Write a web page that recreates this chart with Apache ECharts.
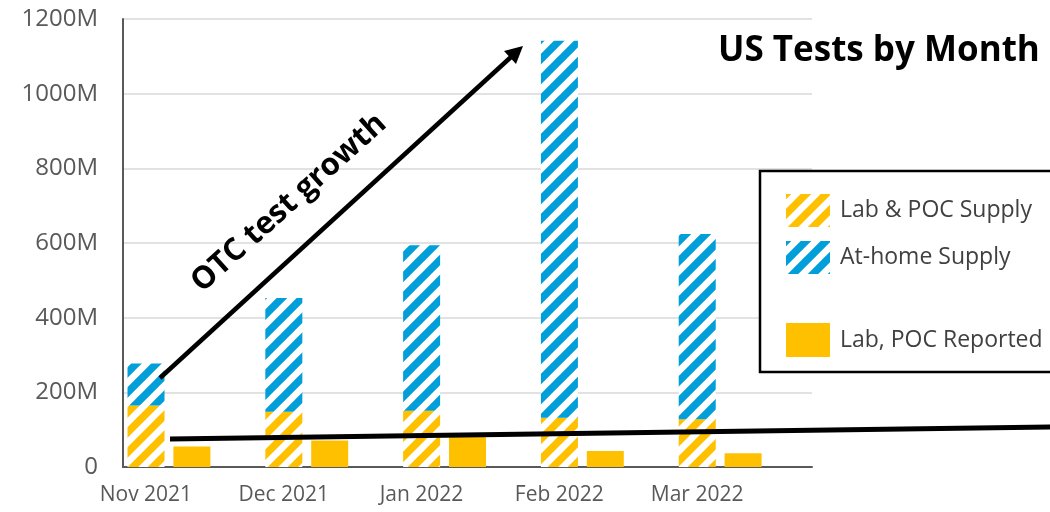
<!DOCTYPE html>
<html>
<head>
<meta charset="utf-8">
<script src="https://cdn.jsdelivr.net/npm/echarts@6/dist/echarts.min.js"></script>
<style>
html,body{margin:0;padding:0;background:#fff;}
#chart{width:1050px;height:512px;}
</style>
</head>
<body>
<div id="chart"></div>
<script>
// ---- data ----
var categories = ['Nov 2021', 'Dec 2021', 'Jan 2022', 'Feb 2022', 'Mar 2022'];
var labPocSupply = [165, 148, 151, 132, 128];      // millions
var atHomeSupply = [112, 305, 443, 1010, 496];     // millions
var labPocReported = [55, 71, 86, 43, 37];         // millions
var yTicks = [0, 200, 400, 600, 800, 1000, 1200];

var YELLOW = '#FFC000';
var BLUE = '#009FDA';

function makeHatch(color) {
  var s = 20;
  var c = document.createElement('canvas');
  c.width = s; c.height = s;
  var g = c.getContext('2d');
  g.fillStyle = '#fff';
  g.fillRect(0, 0, s, s);
  g.strokeStyle = color;
  g.lineWidth = 7.5;
  g.lineCap = 'square';
  for (var k = -1; k <= 1; k++) {
    g.beginPath();
    g.moveTo(k * s, s);
    g.lineTo(k * s + s, 0);
    g.stroke();
  }
  return { image: c, repeat: 'repeat' };
}

var chart = echarts.init(document.getElementById('chart'), null, { renderer: 'canvas' });
var FONT = '"Open Sans", Lato, sans-serif';

var option = {
  animation: false,
  backgroundColor: '#fff',
  grid: { left: 123, right: 238, top: 19, bottom: 45, containLabel: false },
  xAxis: {
    type: 'category',
    data: categories,
    axisTick: { show: false },
    axisLine: { show: true, lineStyle: { color: '#595959', width: 2 } },
    axisLabel: {
      color: '#595959', fontFamily: FONT, fontSize: 21, margin: 18,
      padding: [0, 92, 0, 0]
    }
  },
  yAxis: {
    type: 'value',
    min: 0, max: 1200, interval: 200,
    axisLine: { show: true, lineStyle: { color: '#595959', width: 2 } },
    axisTick: { show: false },
    splitLine: { show: true, lineStyle: { color: '#d9d9d9', width: 1.5 } },
    axisLabel: {
      color: '#595959', fontFamily: FONT, fontSize: 24, margin: 25,
      formatter: function (v) { return yTicks.indexOf(v) >= 0 ? (v === 0 ? '0' : v + 'M') : ''; }
    }
  },
  legend: [
    {
      orient: 'vertical', left: 781, top: 189,
      itemWidth: 44, itemHeight: 33, itemGap: 14, icon: 'rect',
      data: ['Lab & POC Supply', 'At-home Supply'],
      textStyle: { color: '#404040', fontFamily: FONT, fontSize: 23, padding: [0, 0, 0, 5] },
      z: 20
    },
    {
      orient: 'vertical', left: 781, top: 318,
      itemWidth: 44, itemHeight: 34, icon: 'rect',
      data: ['Lab, POC Reported'],
      textStyle: { color: '#404040', fontFamily: FONT, fontSize: 23, padding: [0, 0, 0, 5] },
      z: 20
    }
  ],
  series: [
    {
      name: 'Lab & POC Supply', type: 'bar', stack: 'supply',
      data: labPocSupply, barWidth: 37, barGap: '24%',
      itemStyle: { color: makeHatch(YELLOW) }
    },
    {
      name: 'At-home Supply', type: 'bar', stack: 'supply',
      data: atHomeSupply, barWidth: 37, barGap: '24%',
      itemStyle: { color: makeHatch(BLUE) }
    },
    {
      name: 'Lab, POC Reported', type: 'bar',
      data: labPocReported, barWidth: 37, barGap: '24%',
      itemStyle: { color: YELLOW }
    },
    {
      name: 'spacer', type: 'bar',
      data: categories.map(function () { return null; }), barWidth: 37, barGap: '24%',
      itemStyle: { color: 'transparent' }
    }
  ],
  graphic: [
    // legend frame
    { type: 'rect', z: 10, shape: { x: 760, y: 171, width: 320, height: 201 },
      style: { fill: '#fff', stroke: '#000', lineWidth: 2.5 } },
    // title
    { type: 'text', z: 30, left: 718, top: 34,
      style: { text: 'US Tests by Month', fill: '#000', font: 'bold 35px "Open Sans", Lato, sans-serif' } },
    // growth arrow
    { type: 'line', z: 30, shape: { x1: 160, y1: 378, x2: 511, y2: 57 },
      style: { stroke: '#000', lineWidth: 4.5 } },
    { type: 'polygon', z: 30, shape: { points: [[523, 46], [516, 64], [504, 51]] },
      style: { fill: '#000' } },
    { type: 'text', z: 30, x: 289, y: 203, rotation: 42 * Math.PI / 180,
      style: { text: 'OTC test growth', fill: '#000', align: 'center', verticalAlign: 'middle',
               font: 'bold 31px "Open Sans", Lato, sans-serif' } },
    // reported trend line
    { type: 'line', z: 30, shape: { x1: 170, y1: 439, x2: 1052, y2: 427 },
      style: { stroke: '#000', lineWidth: 5 } }
  ]
};
chart.setOption(option);
</script>
</body>
</html>
